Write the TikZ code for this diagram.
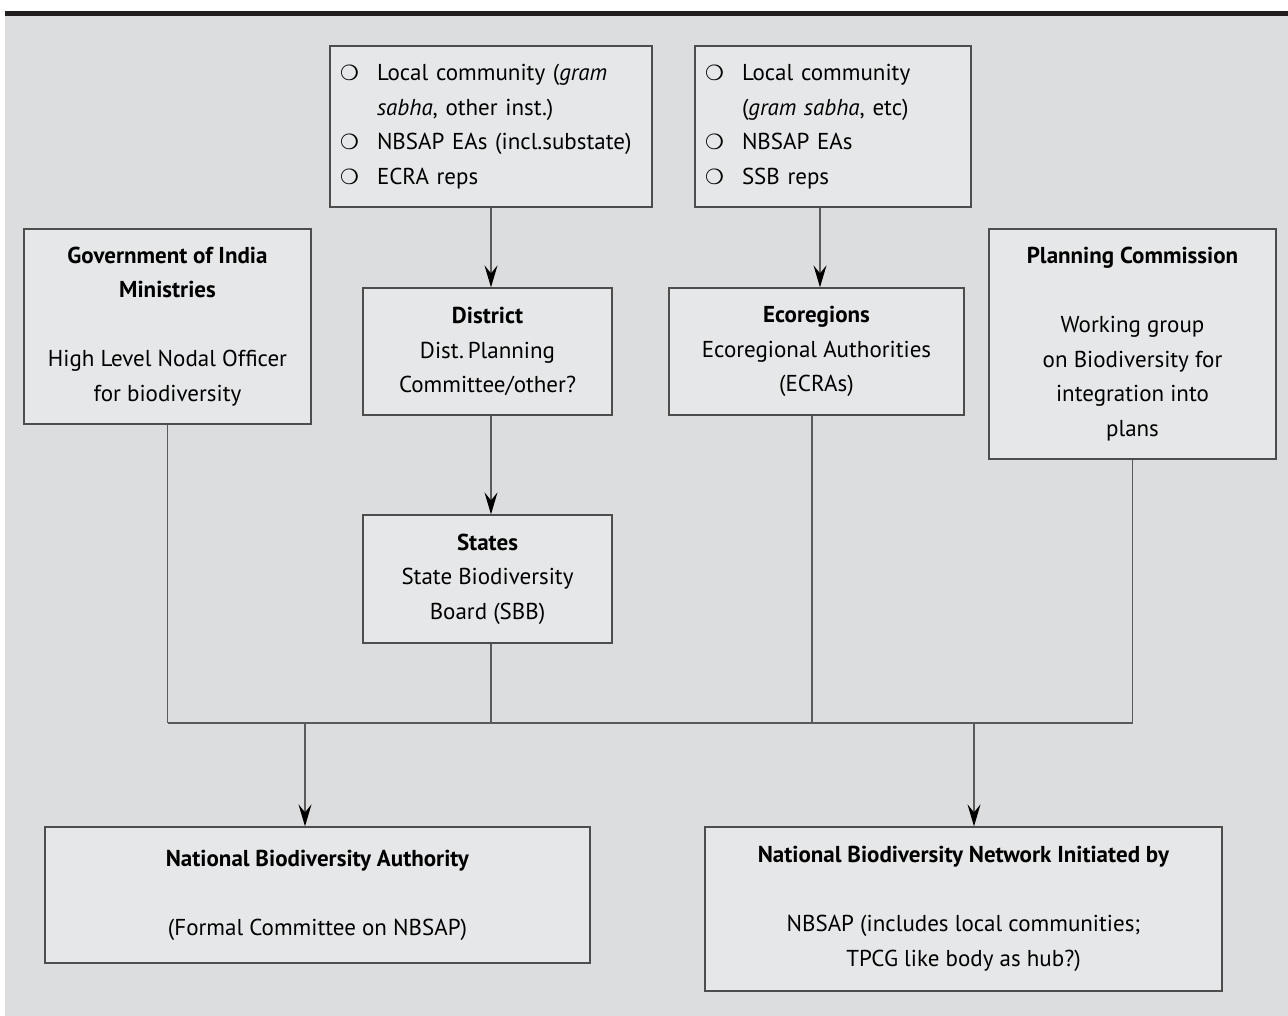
\documentclass[tikz,border=0pt]{standalone}
\usepackage{fontspec}
\setmainfont{PT Sans}
\newfontfamily\dejavu{DejaVu Sans}
\usepackage{tikz}
\usetikzlibrary{arrows.meta, positioning, calc}
\definecolor{panelgray}{HTML}{DCDDDF}
\definecolor{boxgray}{HTML}{E6E7E8}
\definecolor{edgegray}{HTML}{4D4D4D}
\definecolor{linegray}{HTML}{5A5A5A}
\definecolor{barblack}{HTML}{231F20}
\newcommand{\itm}{\makebox[37pt][l]{\dejavu\fontsize{21}{20}\selectfont ❍}}
\newcommand{\contind}{\makebox[37pt][l]{\strut}}

\begin{document}
\begin{tikzpicture}[x=1pt, y=-1pt,
    box/.style={rectangle, draw=edgegray, fill=boxgray, line width=1.3pt, inner sep=0pt, align=center, font=\fontsize{23}{34.6}\selectfont},
    listbox/.style={box, align=left, inner xsep=10pt},
    line/.style={draw=linegray, line width=1.3pt},
    arrow/.style={line, -{Stealth[length=22pt, width=13pt, inset=8pt, color=black]}}]

    % Page frame
    \useasboundingbox (0,0) rectangle (1288,1016);
    \fill[panelgray] (5,16) rectangle (1288,1016);
    \fill[barblack] (5,11) rectangle (1288,16);

    % Top lists
    \node[listbox, text width=302pt, minimum height=161pt] (list1) at (491,126.5)
        {\itm Local community (\textit{gram}\\ \contind\textit{sabha}, other inst.)\\ \itm NBSAP EAs (incl.substate)\\ \itm ECRA reps};
    \node[listbox, text width=256pt, minimum height=161pt] (list2) at (833,126.5)
        {\itm Local community\\ \contind(\textit{gram sabha}, etc)\\ \itm NBSAP EAs\\ \itm SSB reps};

    % Middle row
    \node[box, minimum width=287pt, minimum height=195pt] (goi) at (167.5,326.5)
        {\textbf{Government of India}\\ \textbf{Ministries}\\[34.6pt] High Level Nodal Officer\\ for biodiversity};
    \node[box, minimum width=249pt, minimum height=127pt] (dist) at (487.5,351.5)
        {\textbf{District}\\ Dist.\,Planning\\ Committee/other?};
    \node[box, minimum width=295pt, minimum height=127pt] (eco) at (816.5,351.5)
        {\textbf{Ecoregions}\\ Ecoregional Authorities\\ (ECRAs)};
    \node[box, minimum width=287pt, minimum height=230pt] (plan) at (1132.5,344)
        {\textbf{Planning Commission}\\[34.6pt] Working group\\ on Biodiversity for\\ integration into\\ plans};
    \node[box, minimum width=249pt, minimum height=128pt] (states) at (487.5,579)
        {\textbf{States}\\ State Biodiversity\\ Board (SBB)};

    % Bottom row
    \node[box, minimum width=545pt, minimum height=136pt] (nba) at (317.5,895)
        {\textbf{National Biodiversity Authority}\\[34.6pt] (Formal Committee on NBSAP)};
    \node[box, minimum width=517pt, minimum height=164pt] (nbn) at (963.5,909)
        {\textbf{National Biodiversity Network Initiated by}\\[34.6pt] NBSAP (includes local communities;\\ TPCG like body as hub?)};

    % Junction points
    \coordinate (bus) at (0,723);
    \coordinate (colA) at (491,0);
    \coordinate (colB) at (820,0);
    \coordinate (colC) at (812,0);
    \coordinate (dropL) at (305,723);
    \coordinate (dropR) at (974,723);

    % Links
    \draw[arrow] (list1.south -| colA) -- (dist.north -| colA);
    \draw[arrow] (list2.south -| colB) -- (eco.north -| colB);
    \draw[arrow] (dist.south -| colA) -- (states.north -| colA);
    \draw[line] (goi.south) -- (goi.south |- bus);
    \draw[line] (states.south -| colA) -- (bus -| colA);
    \draw[line] (eco.south -| colC) -- (bus -| colC);
    \draw[line] (plan.south) -- (plan.south |- bus);
    \draw[line] (goi.south |- bus) -- (plan.south |- bus);
    \draw[arrow] (dropL) -- (dropL |- nba.north);
    \draw[arrow] (dropR) -- (dropR |- nbn.north);
\end{tikzpicture}
\end{document}
